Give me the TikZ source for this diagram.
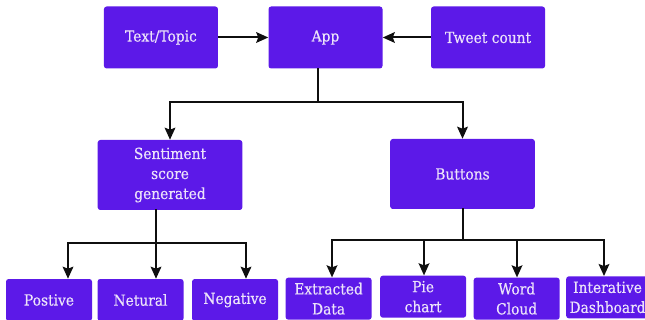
\documentclass[tikz,border=0pt]{standalone}
\usepackage{fontspec}
\setmainfont{DejaVu Serif}[FakeStretch=0.9, FakeBold=0.4]
\usepackage{tikz}
\usetikzlibrary{arrows.meta, positioning, calc}
\definecolor{mypurple}{RGB}{92,25,232}
\definecolor{mylilac}{RGB}{236,226,250}
\definecolor{mydark}{RGB}{15,15,15}
\tikzset{
  box/.style={rectangle, fill=mypurple, text=mylilac,
    align=center, inner sep=0pt, rounded corners=2pt,
    font=\fontsize{11.5}{15}\selectfont},
  topbox/.style={box, minimum width=85.5pt, minimum height=46.5pt},
  midbox/.style={box, minimum width=108.5pt, minimum height=52.5pt},
  leafbox/.style={box, minimum width=64.5pt, minimum height=31.5pt},
  arrow/.style={-{Stealth[length=9pt, width=8pt, inset=1.5pt]}, line width=1.5pt, color=mydark},
  line/.style={line width=1.5pt, color=mydark, line cap=rect}
}

\begin{document}
\begin{tikzpicture}[x=0.75pt, y=-0.75pt]
  \useasboundingbox (0,0) rectangle (645,320);

  \node[topbox] (app) at (325.5,37.5) {App};
  \node[topbox, left=37.5pt of app] (topic) {Text/Topic};
  \node[topbox, right=36pt of app] (tweet) {Tweet count};

  \node[midbox] (sent) at (170,175) {Sentiment\\score\\generated};
  \node[midbox] (btn) at (462.5,174) {Buttons};

  \node[leafbox] (pos) at (49,300) {Postive};
  \node[leafbox, right=3.75pt of pos] (net) {Netural};
  \node[leafbox, right=6pt of net] (neg) {Negative};
  \node[leafbox, right=5.25pt of neg, yshift=1pt] (ext) {Extracted\\Data};
  \node[leafbox, right=6pt of ext, yshift=1.5pt] (pie) {Pie\\chart};
  \node[leafbox, right=5.25pt of pie, yshift=-1.5pt] (word) {Word\\Cloud};
  \node[leafbox, right=4.5pt of word, yshift=1pt, minimum width=62pt] (dash) {Interative\\Dashboard};

  % Branch points
  \coordinate (split) at (318,102);
  \coordinate (posdrop) at (68,243);
  \coordinate (netdrop) at (156,243);
  \coordinate (negdrop) at (246,243);
  \coordinate (extdrop) at (332,239.5);
  \coordinate (piedrop) at (424,239.5);
  \coordinate (worddrop) at (517,239.5);
  \coordinate (dashdrop) at (604,239.5);

  % Connections
  \draw[arrow] (topic) -- (app);
  \draw[arrow] (tweet) -- (app);
  \draw[line] (split |- app.south) -- (split);
  \draw[arrow] (split) -| (sent.north);
  \draw[arrow] (split) -| (btn.north);

  \draw[line] (netdrop |- sent.south) -- (netdrop);
  \draw[line] (posdrop) -- (negdrop);
  \draw[arrow] (posdrop) -- (posdrop |- pos.north);
  \draw[arrow] (netdrop) -- (netdrop |- net.north);
  \draw[arrow] (negdrop) -- (negdrop |- neg.north);

  \draw[line] (btn.south) -- (btn.south |- extdrop);
  \draw[line] (extdrop) -- (dashdrop);
  \draw[arrow] (extdrop) -- (extdrop |- ext.north);
  \draw[arrow] (piedrop) -- (piedrop |- pie.north);
  \draw[arrow] (worddrop) -- (worddrop |- word.north);
  \draw[arrow] (dashdrop) -- (dashdrop |- dash.north);
\end{tikzpicture}
\end{document}
